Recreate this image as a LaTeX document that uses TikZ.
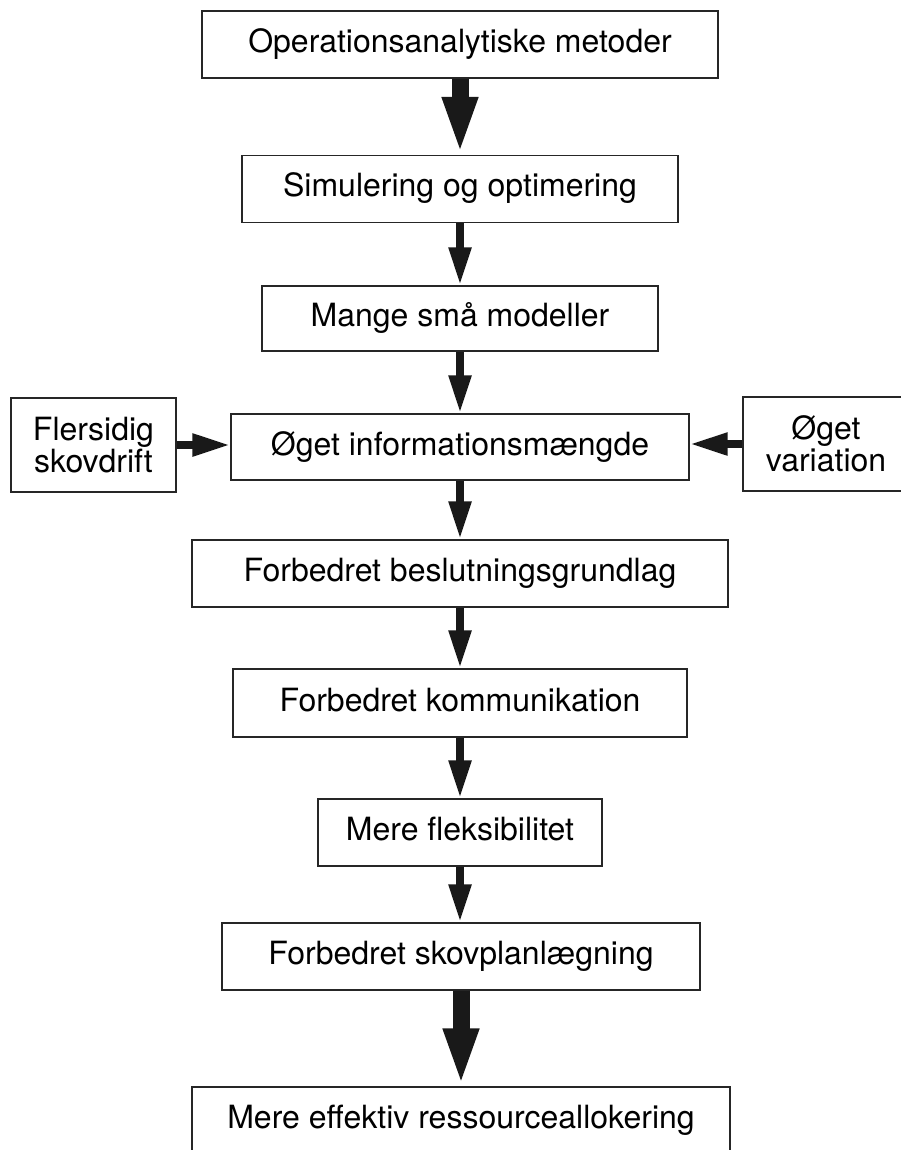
\documentclass[tikz,border=0pt]{standalone}
\usepackage{fontspec}
\setmainfont{TeX Gyre Heros}
\usetikzlibrary{arrows.meta}
\begin{document}
\begin{tikzpicture}[x=1pt,y=-1pt,
  box/.style={draw=black!85, line width=1.2pt, inner sep=0pt, minimum height=67pt,
    font=\fontsize{32}{32}\selectfont, text height=23pt, text depth=7pt},
  sidebox/.style={draw=black!85, line width=1.2pt, inner sep=0pt, minimum height=94pt,
    minimum width=166pt, align=center, font=\fontsize{32}{32}\selectfont},
  thinarrow/.style={draw=black!90, line width=8pt, -{Triangle[length=38pt,width=21pt]}},
  thickarrow/.style={draw=black!90, line width=17pt, -{Triangle[length=58pt,width=32pt]}}
]
\useasboundingbox (0,0) rectangle (901,1150);
\clip (0,0) rectangle (901,1150);
\fill[white] (0,0) rectangle (901,1150);

\node[box, minimum width=516pt] (b1) at (460,44.5) {Operationsanalytiske metoder};
\node[box, minimum width=436pt] (b2) at (460,189) {Simulering og optimering};
\node[box, minimum width=396pt, minimum height=65pt] (b3) at (460,318.5) {Mange små modeller};
\node[box, minimum width=458pt, minimum height=66pt] (b4) at (460,447) {Øget informationsmængde};
\node[box, minimum width=536pt] (b5) at (460,573.5) {Forbedret beslutningsgrundlag};
\node[box, minimum width=454pt, minimum height=68pt] (b6) at (460,703) {Forbedret kommunikation};
\node[box, minimum width=284pt] (b7) at (460,832.5) {Mere fleksibilitet};
\node[box, minimum width=478pt] (b8) at (461,956.5) {Forbedret skovplanlægning};
\node[box, minimum width=538pt] (b9) at (461,1120.5) {Mere effektiv ressourceallokering};

\node[sidebox, minimum width=165pt] (fl) at (93.5,445) {Flersidig\\skovdrift};
\node[sidebox] (ov) at (826,444) {Øget\\variation};

\draw[thickarrow] (b1.south) -- (b2.north);
\draw[thinarrow] (b2.south) -- (b3.north);
\draw[thinarrow] (b3.south) -- (b4.north);
\draw[thinarrow] (b4.south) -- (b5.north);
\draw[thinarrow] (b5.south) -- (b6.north);
\draw[thinarrow] (b6.south) -- (b7.north);
\draw[thinarrow] (b7.south) -- (b7.south |- b8.north);
\draw[thickarrow] (b8.south) -- (b8.south |- b9.north);
\draw[thinarrow] (fl.east) -- (fl.east -| b4.west);
\draw[thinarrow] (ov.west) -- (ov.west -| b4.east);
\end{tikzpicture}
\end{document}
